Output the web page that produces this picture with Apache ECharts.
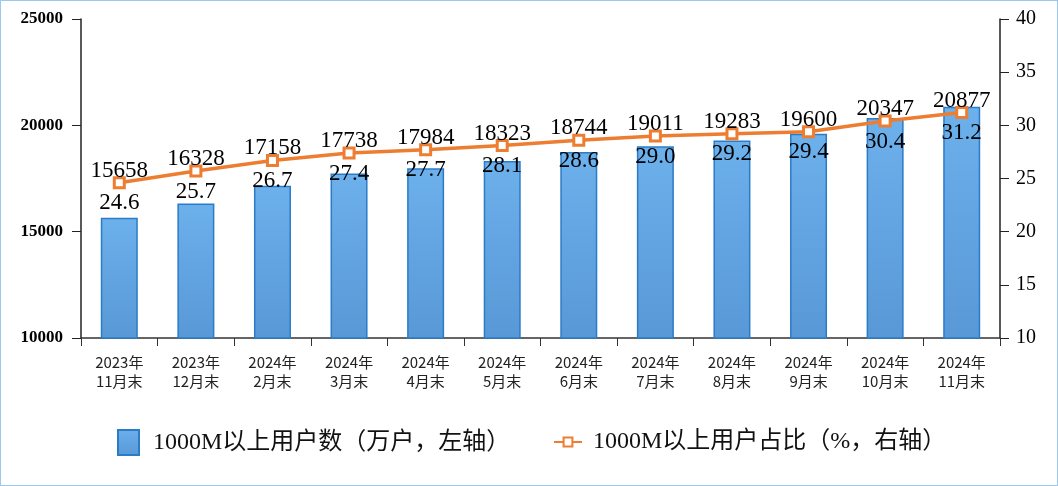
<!DOCTYPE html>
<html>
<head>
<meta charset="utf-8">
<script src="https://cdn.jsdelivr.net/npm/echarts@6/dist/echarts.min.js"></script>
<style>
html,body{margin:0;padding:0;background:#fff;}
#wrap{position:absolute;left:0;top:0;width:1056px;height:484px;border:1px solid #9cc7ee;}
#c{width:1056px;height:484px;}
</style>
</head>
<body>
<div id="wrap"><div id="c"></div></div>
<script>
const categories = ['2023年\n11月末','2023年\n12月末','2024年\n2月末','2024年\n3月末','2024年\n4月末','2024年\n5月末','2024年\n6月末','2024年\n7月末','2024年\n8月末','2024年\n9月末','2024年\n10月末','2024年\n11月末'];
const users = [15658,16328,17158,17738,17984,18323,18744,19011,19283,19600,20347,20877];
const ratio = [24.6,25.7,26.7,27.4,27.7,28.1,28.6,29.0,29.2,29.4,30.4,31.2];
const leftTicks = [10000, 25000, 5000];
const rightTicks = [10, 40, 5];
const barName = '1000M以上用户数（万户，左轴）';
const lineName = '1000M以上用户占比（%，右轴）';

const chart = echarts.init(document.getElementById('c'), null, {renderer:'canvas'});
const serif = 'Liberation Serif, Times New Roman, serif';
chart.setOption({
  animation:false,
  backgroundColor:'#fff',
  grid:{left:80,right:57,top:18,bottom:147,containLabel:false},
  legend:[
    {data:[{name:barName,icon:'rect'}],left:111,top:423,itemWidth:21,itemHeight:25,
     textStyle:{fontFamily:serif+', Noto Sans CJK SC',fontSize:24,color:'#111',padding:[0,0,0,9]}},
    {data:[lineName],left:547,top:424,itemWidth:28,itemHeight:11,
     textStyle:{fontFamily:serif+', Noto Sans CJK SC',fontSize:24,color:'#111',padding:[0,0,0,6]}}
  ],
  xAxis:{
    type:'category',data:categories,boundaryGap:true,
    axisLine:{lineStyle:{color:'#333',width:1.5}},
    axisTick:{show:true,length:8,lineStyle:{color:'#333'}},
    axisLabel:{fontFamily:'Noto Sans CJK SC',fontSize:15,color:'#222',lineHeight:19,margin:15,interval:0}
  },
  yAxis:[
    {type:'value',min:leftTicks[0],max:leftTicks[1],interval:leftTicks[2],
     splitLine:{show:false},
     axisLine:{show:true,lineStyle:{color:'#222',width:1.5}},
     axisTick:{show:true,length:9,lineStyle:{color:'#222'}},
     axisLabel:{fontFamily:serif,fontWeight:'bold',fontSize:17,color:'#000',margin:18,formatter:v=>String(v)}},
    {type:'value',min:rightTicks[0],max:rightTicks[1],interval:rightTicks[2],
     splitLine:{show:false},
     axisLine:{show:true,lineStyle:{color:'#222',width:1.5}},
     axisTick:{show:true,length:9,lineStyle:{color:'#222'}},
     axisLabel:{fontFamily:serif,fontSize:20,color:'#000',margin:16}}
  ],
  series:[
    {name:barName,type:'bar',data:users,yAxisIndex:0,barWidth:37,
     itemStyle:{color:new echarts.graphic.LinearGradient(0,0,0,1,[{offset:0,color:'#6cb0ec'},{offset:1,color:'#5898d6'}]),
       borderColor:'#2a7cc7',borderWidth:1.5}},
    {name:lineName,type:'line',data:ratio,yAxisIndex:1,z:5,
     symbol:'rect',symbolSize:10,
     itemStyle:{color:'#fff',borderColor:'#ed7d31',borderWidth:3},
     lineStyle:{color:'#ed7d31',width:3.5},
     label:{show:true,position:'top',distance:0,offset:[0,6],
       formatter:p=>String(users[p.dataIndex]),
       fontFamily:serif,fontSize:23,color:'#000'}},
    {name:'pctLabel',type:'line',data:ratio,yAxisIndex:1,z:6,silent:true,
     symbol:'rect',symbolSize:10,showSymbol:true,
     itemStyle:{color:'rgba(0,0,0,0)',borderWidth:0},lineStyle:{width:0,color:'rgba(0,0,0,0)'},
     label:{show:true,position:'bottom',distance:4,
       formatter:p=>ratio[p.dataIndex].toFixed(1),
       fontFamily:serif,fontSize:23,color:'#000'}}
  ]
});
</script>
</body>
</html>
